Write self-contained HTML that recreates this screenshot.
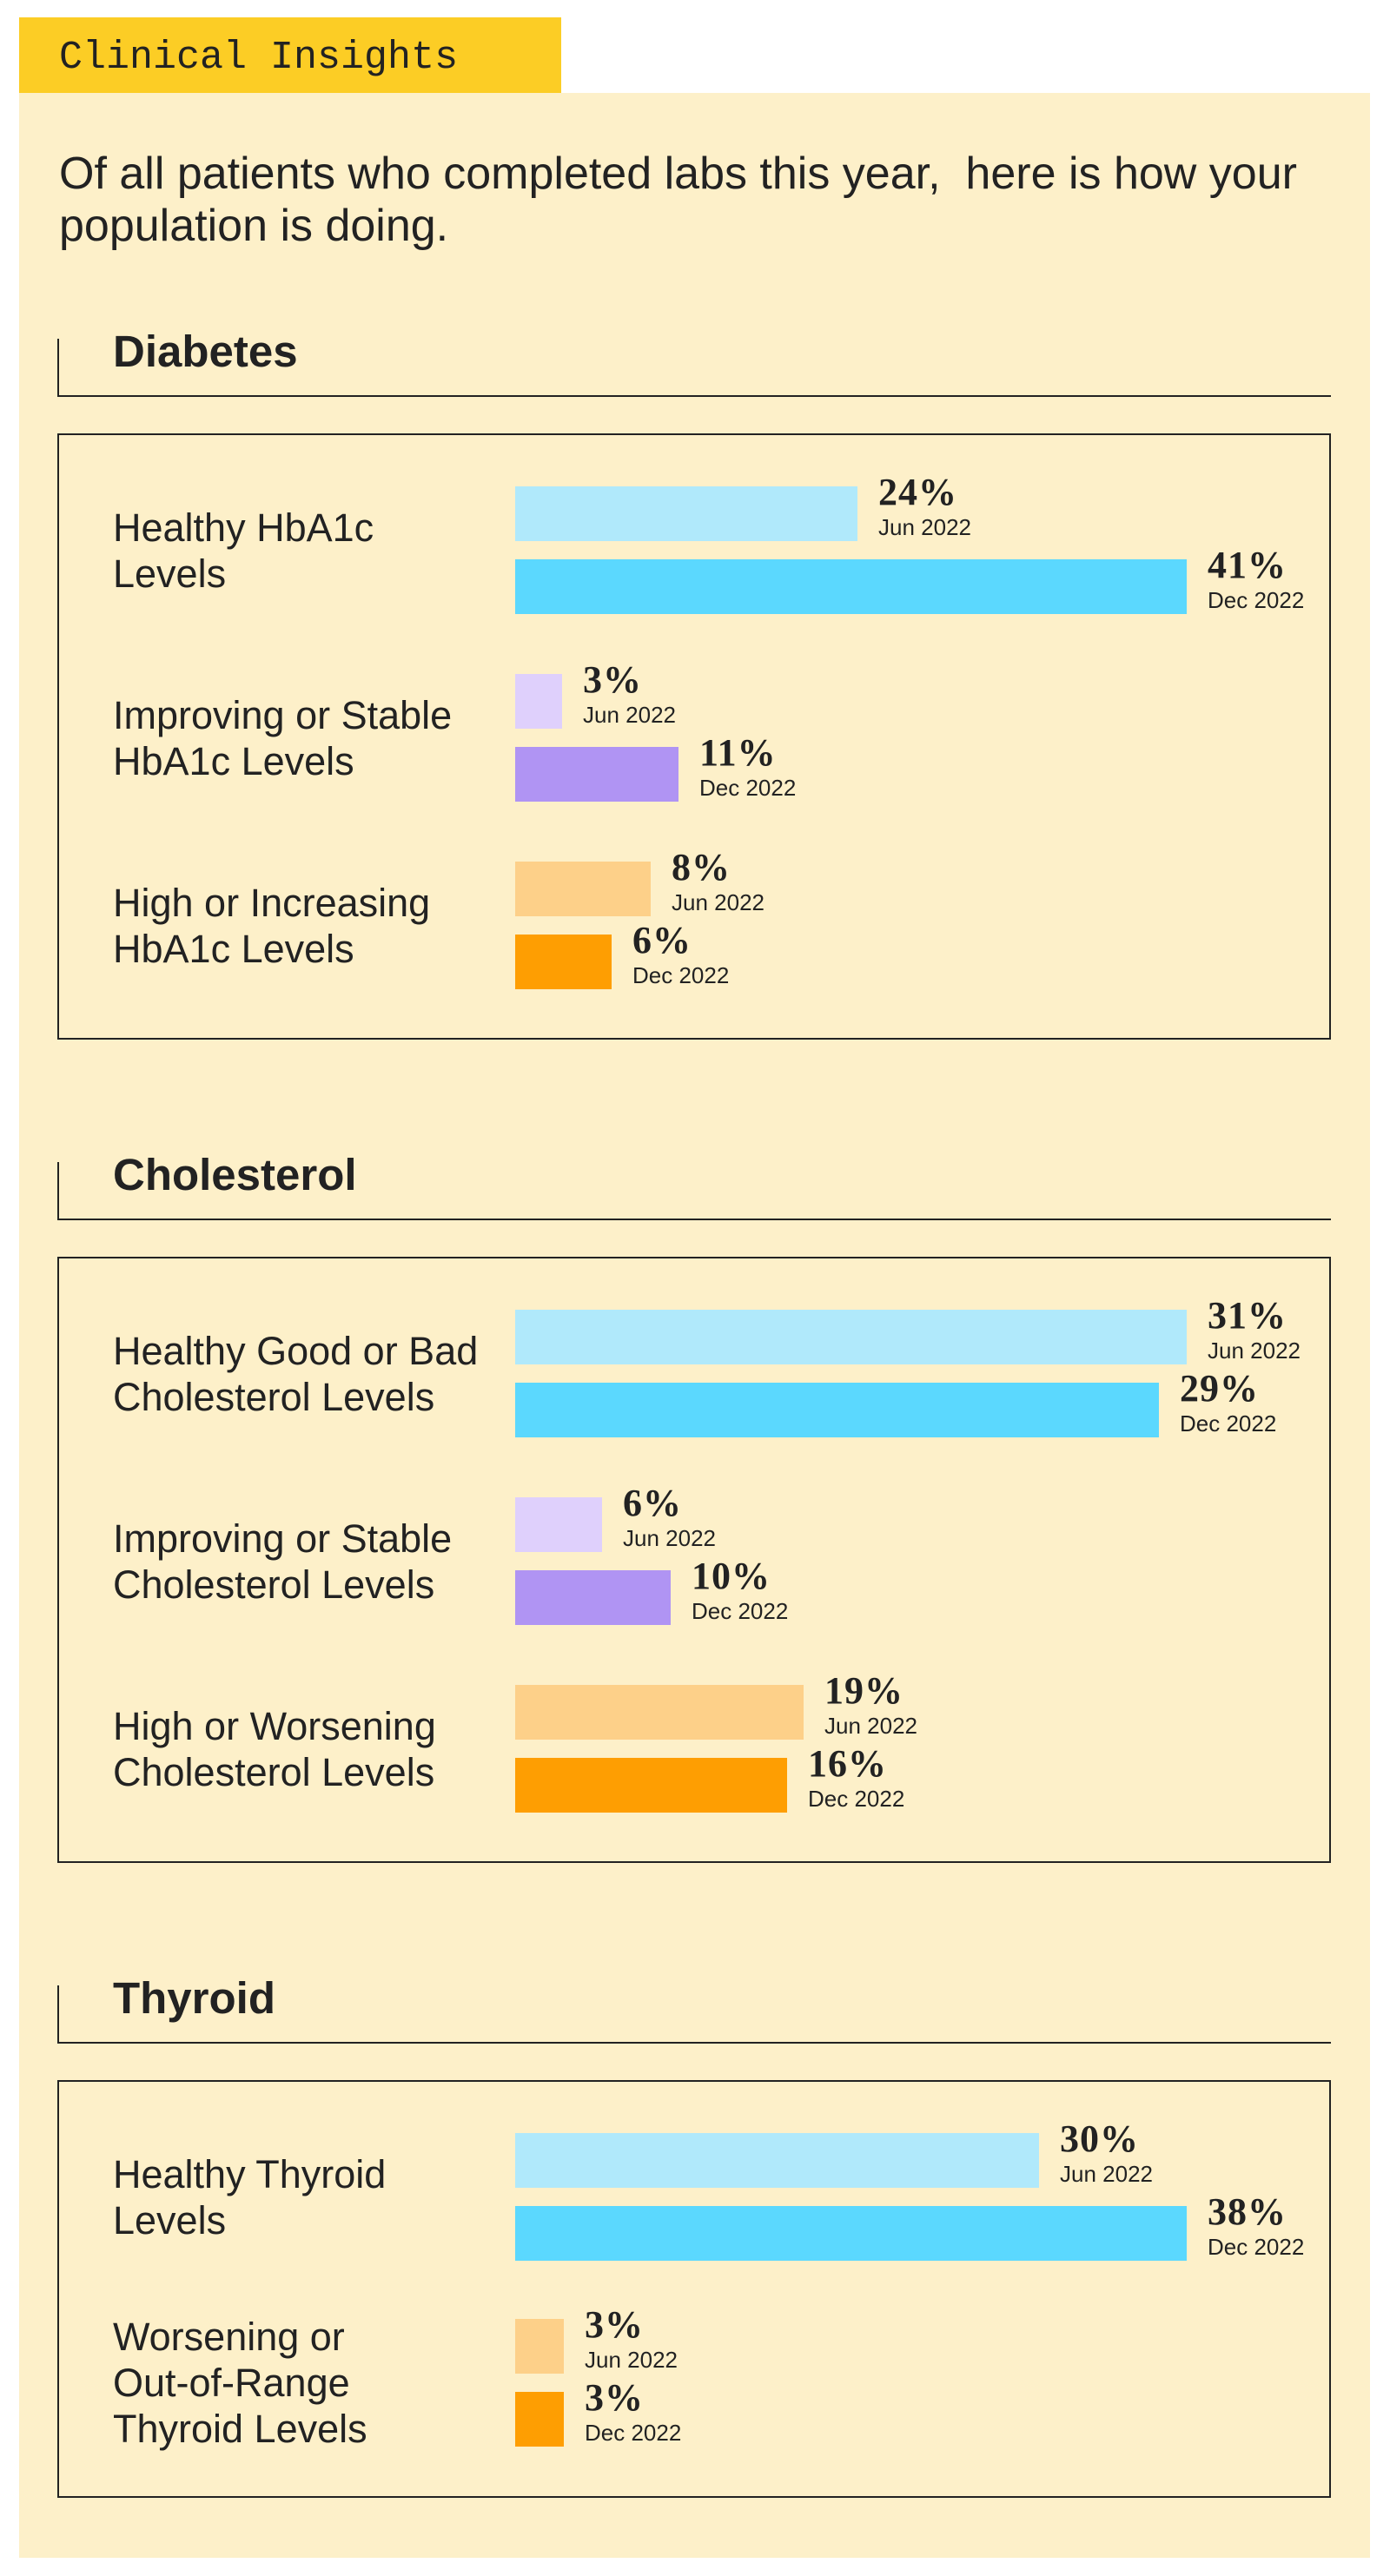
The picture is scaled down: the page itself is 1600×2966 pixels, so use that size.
<!DOCTYPE html>
<html><head><meta charset="utf-8"><style>
body{margin:0;width:1600px;height:2966px;background:#fff;position:relative;overflow:hidden;color:#222;font-family:"Liberation Sans",sans-serif}
div{position:absolute}
.tab{left:22px;top:20px;width:624px;height:87px;background:#fccd25}
.title{left:68px;top:44px;font-family:"Liberation Mono",monospace;font-size:45px;line-height:1;white-space:nowrap}
.panel{left:22px;top:107px;width:1555px;height:2838px;background:#fdf0c9}
.intro{left:68px;top:170px;font-size:52px;line-height:60px;width:1500px}
.h{left:130px;font-weight:bold;font-size:51px;line-height:1}
.vl{left:66px;width:2px;height:66px;background:#222}
.hl{left:66px;width:1466px;height:2px;background:#222}
.box{left:66px;width:1462px;border:2px solid #222}
.lab{left:130px;font-size:45px;line-height:53px;white-space:nowrap}
.bar{left:593px;height:63px}
.pct{font-family:"Liberation Serif",serif;font-weight:bold;font-size:44px;line-height:1;white-space:nowrap;margin-top:-5px;letter-spacing:1px}
.dt{font-size:26px;line-height:1;white-space:nowrap;margin-top:-4px}
.lb{background:#b0e9fb}.b{background:#5bd8fe}.ll{background:#dfd0fc}.p{background:#b094f3}.lo{background:#fdd089}.o{background:#fe9e02}
</style></head><body>
<div class="tab"></div><div class="title">Clinical Insights</div>
<div class="panel"></div>
<div class="intro">Of all patients who completed labs this year,&nbsp; here is how your population is doing.</div>

<div class="vl" style="top:390px"></div><div class="hl" style="top:455px"></div><div class="h" style="top:379px">Diabetes</div>
<div class="box" style="top:499px;height:694px"></div>
<div class="vl" style="top:1338px"></div><div class="hl" style="top:1403px"></div><div class="h" style="top:1327px">Cholesterol</div>
<div class="box" style="top:1447px;height:694px"></div>
<div class="vl" style="top:2286px"></div><div class="hl" style="top:2351px"></div><div class="h" style="top:2275px">Thyroid</div>
<div class="box" style="top:2395px;height:477px"></div>

<div class="lab" style="top:581px">Healthy HbA1c<br>Levels</div>
<div class="lab" style="top:797px">Improving or Stable<br>HbA1c Levels</div>
<div class="lab" style="top:1013px">High or Increasing<br>HbA1c Levels</div>
<div class="lab" style="top:1529px">Healthy Good or Bad<br>Cholesterol Levels</div>
<div class="lab" style="top:1745px">Improving or Stable<br>Cholesterol Levels</div>
<div class="lab" style="top:1961px">High or Worsening<br>Cholesterol Levels</div>
<div class="lab" style="top:2477px">Healthy Thyroid<br>Levels</div>
<div class="lab" style="top:2664px">Worsening or<br>Out-of-Range<br>Thyroid Levels</div>

<div class="bar lb" style="top:560px;width:394px"></div><div class="pct" style="left:1011px;top:550px">24%</div><div class="dt" style="left:1011px;top:598px">Jun 2022</div>
<div class="bar b" style="top:644px;width:773px"></div><div class="pct" style="left:1390px;top:634px">41%</div><div class="dt" style="left:1390px;top:682px">Dec 2022</div>
<div class="bar ll" style="top:776px;width:54px"></div><div class="pct" style="left:671px;top:766px">3%</div><div class="dt" style="left:671px;top:814px">Jun 2022</div>
<div class="bar p" style="top:860px;width:188px"></div><div class="pct" style="left:805px;top:850px">11%</div><div class="dt" style="left:805px;top:898px">Dec 2022</div>
<div class="bar lo" style="top:992px;width:156px"></div><div class="pct" style="left:773px;top:982px">8%</div><div class="dt" style="left:773px;top:1030px">Jun 2022</div>
<div class="bar o" style="top:1076px;width:111px"></div><div class="pct" style="left:728px;top:1066px">6%</div><div class="dt" style="left:728px;top:1114px">Dec 2022</div>

<div class="bar lb" style="top:1508px;width:773px"></div><div class="pct" style="left:1390px;top:1498px">31%</div><div class="dt" style="left:1390px;top:1546px">Jun 2022</div>
<div class="bar b" style="top:1592px;width:741px"></div><div class="pct" style="left:1358px;top:1582px">29%</div><div class="dt" style="left:1358px;top:1630px">Dec 2022</div>
<div class="bar ll" style="top:1724px;width:100px"></div><div class="pct" style="left:717px;top:1714px">6%</div><div class="dt" style="left:717px;top:1762px">Jun 2022</div>
<div class="bar p" style="top:1808px;width:179px"></div><div class="pct" style="left:796px;top:1798px">10%</div><div class="dt" style="left:796px;top:1846px">Dec 2022</div>
<div class="bar lo" style="top:1940px;width:332px"></div><div class="pct" style="left:949px;top:1930px">19%</div><div class="dt" style="left:949px;top:1978px">Jun 2022</div>
<div class="bar o" style="top:2024px;width:313px"></div><div class="pct" style="left:930px;top:2014px">16%</div><div class="dt" style="left:930px;top:2062px">Dec 2022</div>

<div class="bar lb" style="top:2456px;width:603px"></div><div class="pct" style="left:1220px;top:2446px">30%</div><div class="dt" style="left:1220px;top:2494px">Jun 2022</div>
<div class="bar b" style="top:2540px;width:773px"></div><div class="pct" style="left:1390px;top:2530px">38%</div><div class="dt" style="left:1390px;top:2578px">Dec 2022</div>
<div class="bar lo" style="top:2670px;width:56px"></div><div class="pct" style="left:673px;top:2660px">3%</div><div class="dt" style="left:673px;top:2708px">Jun 2022</div>
<div class="bar o" style="top:2754px;width:56px"></div><div class="pct" style="left:673px;top:2744px">3%</div><div class="dt" style="left:673px;top:2792px">Dec 2022</div>
</body></html>
